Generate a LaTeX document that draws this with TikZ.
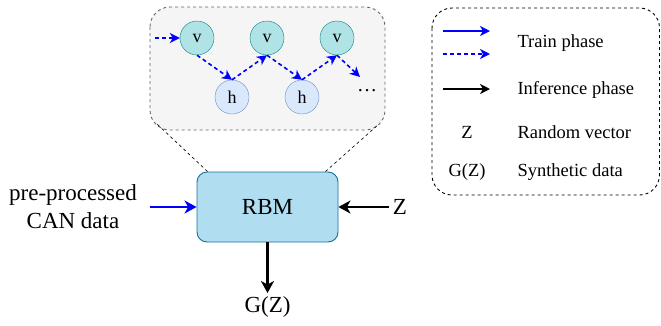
\documentclass[tikz,border=0pt]{standalone}
\usepackage{fontspec}
\setmainfont{Liberation Serif}
\usetikzlibrary{arrows.meta}

\definecolor{vfill}{HTML}{B0E3E6}
\definecolor{vline}{HTML}{0E8088}
\definecolor{hfill}{HTML}{DAE8FC}
\definecolor{hline}{HTML}{6C8EBF}
\definecolor{rbmfill}{HTML}{B1DDF0}
\definecolor{rbmline}{HTML}{10739E}
\definecolor{boxfill}{HTML}{F5F5F5}
\definecolor{boxline}{HTML}{666666}
\definecolor{trainblue}{HTML}{0000FF}

\tikzset{
	bigtxt/.style={font=\fontsize{23}{28}\selectfont},
	legtxt/.style={font=\fontsize{18.5}{22}\selectfont},
	unit/.style={circle,minimum size=34pt,inner sep=0pt,font=\fontsize{18}{20}\selectfont},
	visible/.style={unit,draw=vline,fill=vfill},
	hidden/.style={unit,draw=hline,fill=hfill},
	trainarr/.style={-{Stealth[length=12pt,width=13pt,inset=3.5pt]},draw=trainblue,line width=2.2pt},
	inferarr/.style={-{Stealth[length=12pt,width=13pt,inset=3.5pt]},draw=black,line width=2.2pt},
	gibbsarr/.style={-{Stealth[length=10pt,width=10pt,inset=3pt]},draw=trainblue,line width=1.6pt,dash pattern=on 4pt off 3pt},
	legarr/.style={-{Stealth[length=10pt,width=10pt,inset=3pt]},line width=1.6pt}
}

\begin{document}
\begin{tikzpicture}[x=1pt,y=-1pt]
		\useasboundingbox (0,0) rectangle (661,325);

		% sampling chain inside the RBM
		\draw[boxline,fill=boxfill,dashed,line width=0.9pt,rounded corners=20pt] (150,7) rectangle (385,130);
		\coordinate (zl) at (157,124);
		\coordinate (zr) at (379,124);
		\node[visible] (v1) at (197,38) {v};
		\node[visible] (v2) at (267,38) {v};
		\node[visible] (v3) at (337,38) {v};
		\node[hidden] (h1) at (232,97) {h};
		\node[hidden] (h2) at (302,97) {h};
		\node[font=\fontsize{20}{22}\selectfont] (more) at (367,91) {\dots};
		\coordinate (cin) at (155,38);
		\coordinate (cout) at (360,77);
		\draw[gibbsarr] (cin) -- (v1);
		\draw[gibbsarr] (v1.south) -- (h1.north);
		\draw[gibbsarr] (h1.north) -- (v2.south);
		\draw[gibbsarr] (v2.south) -- (h2.north);
		\draw[gibbsarr] (h2.north) -- (v3.south);
		\draw[gibbsarr] (v3.south) -- (cout);

		% model block
		\node[bigtxt,draw=rbmline,fill=rbmfill,line width=0.9pt,rounded corners=10pt,
			minimum width=141pt,minimum height=70pt] (rbm) at (267.5,207) {RBM};
		\draw[dashed,line width=0.6pt] ([xshift=11pt]rbm.north west) -- (zl);
		\draw[dashed,line width=0.6pt] ([xshift=-13pt]rbm.north east) -- (zr);

		\node[bigtxt,align=center] (can) at (73,207) {pre-processed\\CAN data};
		\node[bigtxt] (z) at (400,207) {Z};
		\node[bigtxt] (gz) at (267.5,307) {G(Z)};
		\coordinate (canend) at (150,207);
		\draw[trainarr] (canend) -- (rbm.west);
		\draw[inferarr] (z.west) -- (rbm.east);
		\draw[inferarr] (rbm.south) -- (gz.north);

		% legend
		\draw[dashed,line width=0.9pt,rounded corners=20pt] (432,8) rectangle (659.5,195);
		\coordinate (l1a) at (443,31);  \coordinate (l1b) at (490,31);
		\coordinate (l2a) at (443,54);  \coordinate (l2b) at (490,54);
		\coordinate (l3a) at (443,89);  \coordinate (l3b) at (490,89);
		\draw[legarr,trainblue] (l1a) -- (l1b);
		\draw[legarr,trainblue,dash pattern=on 4pt off 3pt] (l2a) -- (l2b);
		\draw[legarr] (l3a) -- (l3b);
		\node[legtxt,anchor=west] (ltrain) at (514,43) {Train phase};
		\node[legtxt,anchor=west] (linfer) at (514,90) {Inference phase};
		\node[legtxt] (lz) at (467,132) {Z};
		\node[legtxt,anchor=west] (lrand) at (514,132) {Random vector};
		\node[legtxt] (lgz) at (467,172) {G(Z)};
		\node[legtxt,anchor=west] (lsyn) at (514,172) {Synthetic data};
	\end{tikzpicture}
\end{document}
